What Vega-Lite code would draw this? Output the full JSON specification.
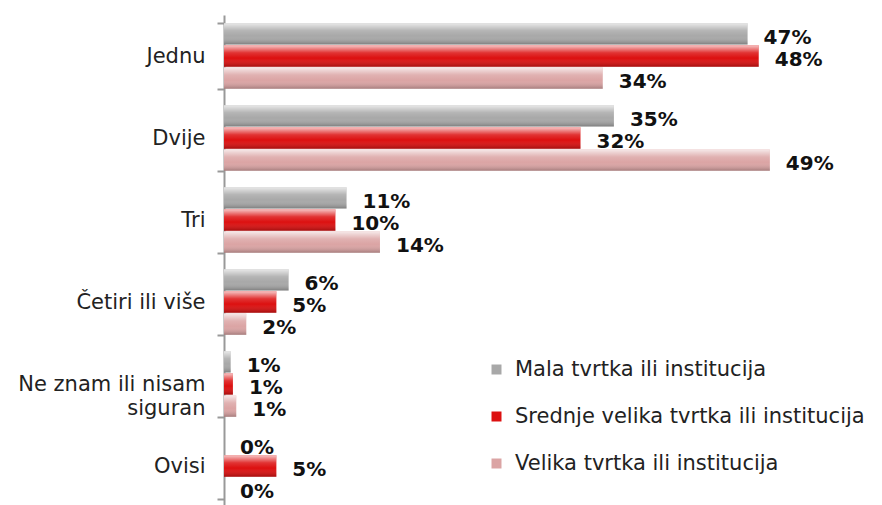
{
  "$schema": "https://vega.github.io/schema/vega-lite/v6.json",
  "width": 557,
  "height": 492,
  "autosize": "none",
  "padding": {"left": 224, "top": 15, "right": 101, "bottom": 0},
  "background": "white",
  "config": {"view": {"stroke": null}},
  "data": {
    "values": [
      {"cat": "Jednu", "series": "Mala tvrtka ili institucija", "value": 47, "label": "47%"},
      {"cat": "Jednu", "series": "Srednje velika tvrtka ili institucija", "value": 48, "label": "48%"},
      {"cat": "Jednu", "series": "Velika tvrtka ili institucija", "value": 34, "label": "34%"},
      {"cat": "Dvije", "series": "Mala tvrtka ili institucija", "value": 35, "label": "35%"},
      {"cat": "Dvije", "series": "Srednje velika tvrtka ili institucija", "value": 32, "label": "32%"},
      {"cat": "Dvije", "series": "Velika tvrtka ili institucija", "value": 49, "label": "49%"},
      {"cat": "Tri", "series": "Mala tvrtka ili institucija", "value": 11, "label": "11%"},
      {"cat": "Tri", "series": "Srednje velika tvrtka ili institucija", "value": 10, "label": "10%"},
      {"cat": "Tri", "series": "Velika tvrtka ili institucija", "value": 14, "label": "14%"},
      {"cat": "Četiri ili više", "series": "Mala tvrtka ili institucija", "value": 5.8, "label": "6%"},
      {"cat": "Četiri ili više", "series": "Srednje velika tvrtka ili institucija", "value": 4.7, "label": "5%"},
      {"cat": "Četiri ili više", "series": "Velika tvrtka ili institucija", "value": 2, "label": "2%"},
      {"cat": "Ne znam ili nisam siguran", "series": "Mala tvrtka ili institucija", "value": 0.6, "label": "1%"},
      {"cat": "Ne znam ili nisam siguran", "series": "Srednje velika tvrtka ili institucija", "value": 0.8, "label": "1%"},
      {"cat": "Ne znam ili nisam siguran", "series": "Velika tvrtka ili institucija", "value": 1.1, "label": "1%"},
      {"cat": "Ovisi", "series": "Mala tvrtka ili institucija", "value": 0, "label": "0%"},
      {"cat": "Ovisi", "series": "Srednje velika tvrtka ili institucija", "value": 4.7, "label": "5%"},
      {"cat": "Ovisi", "series": "Velika tvrtka ili institucija", "value": 0, "label": "0%"}
    ]
  },
  "encoding": {
    "y": {
      "field": "cat",
      "type": "nominal",
      "sort": ["Jednu", "Dvije", "Tri", "Četiri ili više", "Ne znam ili nisam siguran", "Ovisi"],
      "scale": {"paddingInner": 0.2, "paddingOuter": 0.1},
      "axis": {
        "title": null,
        "tickBand": "extent",
        "domainColor": "#999999",
        "domainWidth": 2,
        "tickColor": "#999999",
        "tickWidth": 2,
        "tickSize": 7,
        "labelPadding": 12,
        "labelFont": "DejaVu Sans",
        "labelFontSize": 21,
        "labelColor": "#222222",
        "labelLineHeight": 24,
        "labelLimit": 0,
        "labelExpr": "datum.value == 'Ne znam ili nisam siguran' ? ['Ne znam ili nisam', 'siguran'] : datum.value"
      }
    },
    "yOffset": {
      "field": "series",
      "type": "nominal",
      "sort": ["Mala tvrtka ili institucija", "Srednje velika tvrtka ili institucija", "Velika tvrtka ili institucija"],
      "scale": {"paddingInner": 0.04}
    },
    "x": {
      "field": "value",
      "type": "quantitative",
      "scale": {"domain": [0, 50], "nice": false},
      "axis": null
    }
  },
  "layer": [
    {
      "mark": {"type": "bar", "clip": false},
      "encoding": {
        "color": {
          "field": "series",
          "type": "nominal",
          "sort": ["Mala tvrtka ili institucija", "Srednje velika tvrtka ili institucija", "Velika tvrtka ili institucija"],
          "scale": {"range": ["#a8a8a8", "#dc1010", "#dba4a4"]},
          "legend": {
            "orient": "none",
            "legendX": 262,
            "legendY": 344,
            "title": null,
            "padding": 0,
            "symbolType": "square",
            "symbolSize": 100,
            "symbolStrokeWidth": 0,
            "labelFont": "DejaVu Sans",
            "labelFontSize": 21,
            "labelColor": "#222222",
            "labelOffset": 8,
            "labelLimit": 0,
            "rowPadding": 25
          }
        }
      }
    },
    {
      "mark": {
        "type": "bar",
        "clip": false,
        "fill": {
          "gradient": "linear",
          "x1": 0, "y1": 0, "x2": 0, "y2": 1,
          "stops": [
            {"offset": 0, "color": "rgba(255,255,255,0.75)"},
            {"offset": 0.35, "color": "rgba(255,255,255,0.15)"},
            {"offset": 0.6, "color": "rgba(255,255,255,0)"},
            {"offset": 1, "color": "rgba(0,0,0,0.25)"}
          ]
        }
      }
    },
    {
      "mark": {
        "type": "text",
        "align": "left",
        "baseline": "middle",
        "dx": 16,
        "dy": 4,
        "font": "DejaVu Sans",
        "fontSize": 20,
        "fontWeight": "bold",
        "color": "#111111"
      },
      "encoding": {"text": {"field": "label"}}
    }
  ]
}
